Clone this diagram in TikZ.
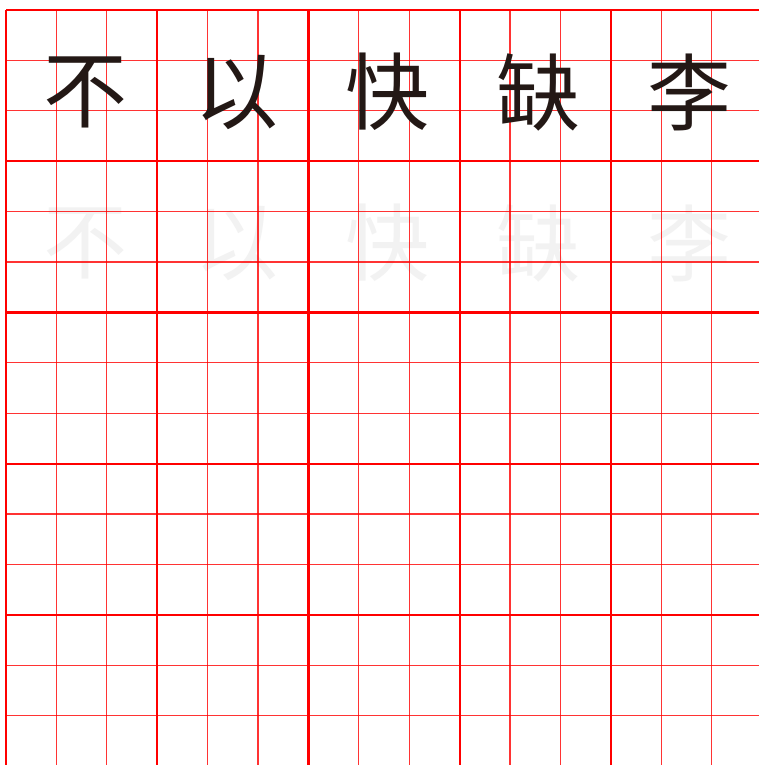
\documentclass[tikz,border=0pt]{standalone}
\usepackage{fontspec}
\newfontfamily\cjk{Noto Sans CJK SC}
\definecolor{ink}{HTML}{231815}
\definecolor{ghost}{HTML}{F2F2F2}
\definecolor{gridred}{HTML}{FF0000}
\begin{document}
\begin{tikzpicture}[x=1pt,y=-1pt,
  thinline/.style={draw=gridred,line width=1.1pt,opacity=0.8},
  thickline/.style={draw=gridred,line width=2.2pt},
  charbig/.style={font=\cjk\fontsize{84}{84}\selectfont,text=ink,inner sep=0pt,anchor=center},
  charghost/.style={font=\cjk\fontsize{84}{84}\selectfont,text=ghost,inner sep=0pt,anchor=center}]
\useasboundingbox (0,0) rectangle (759,765);
\fill[white] (0,0) rectangle (759,765);
% ghost row
\foreach \c [count=\i from 0] in {不,以,快,缺,李}
  \node[charghost] (g\i) at ({6+79+151.2*\i},{10+151.2+82}) {\c};
% thin grid lines
\foreach \k in {1,2,4,5,7,8,10,11,13,14}{
  \draw[thinline] ({6+50.4*\k},10) -- ({6+50.4*\k},765);
  \draw[thinline] (6,{10+50.4*\k}) -- (759,{10+50.4*\k});
}
% thick grid lines
\foreach \k in {0,3,6,9,12}{
  \draw[thickline] ({6+50.4*\k},10) -- ({6+50.4*\k},765);
  \draw[thickline] (6,{10+50.4*\k}) -- (759,{10+50.4*\k});
}
% main row
\foreach \c [count=\i from 0] in {不,以,快,缺,李}
  \node[charbig] (m\i) at ({6+79+151.2*\i},{10+82}) {\c};
\end{tikzpicture}
\end{document}
